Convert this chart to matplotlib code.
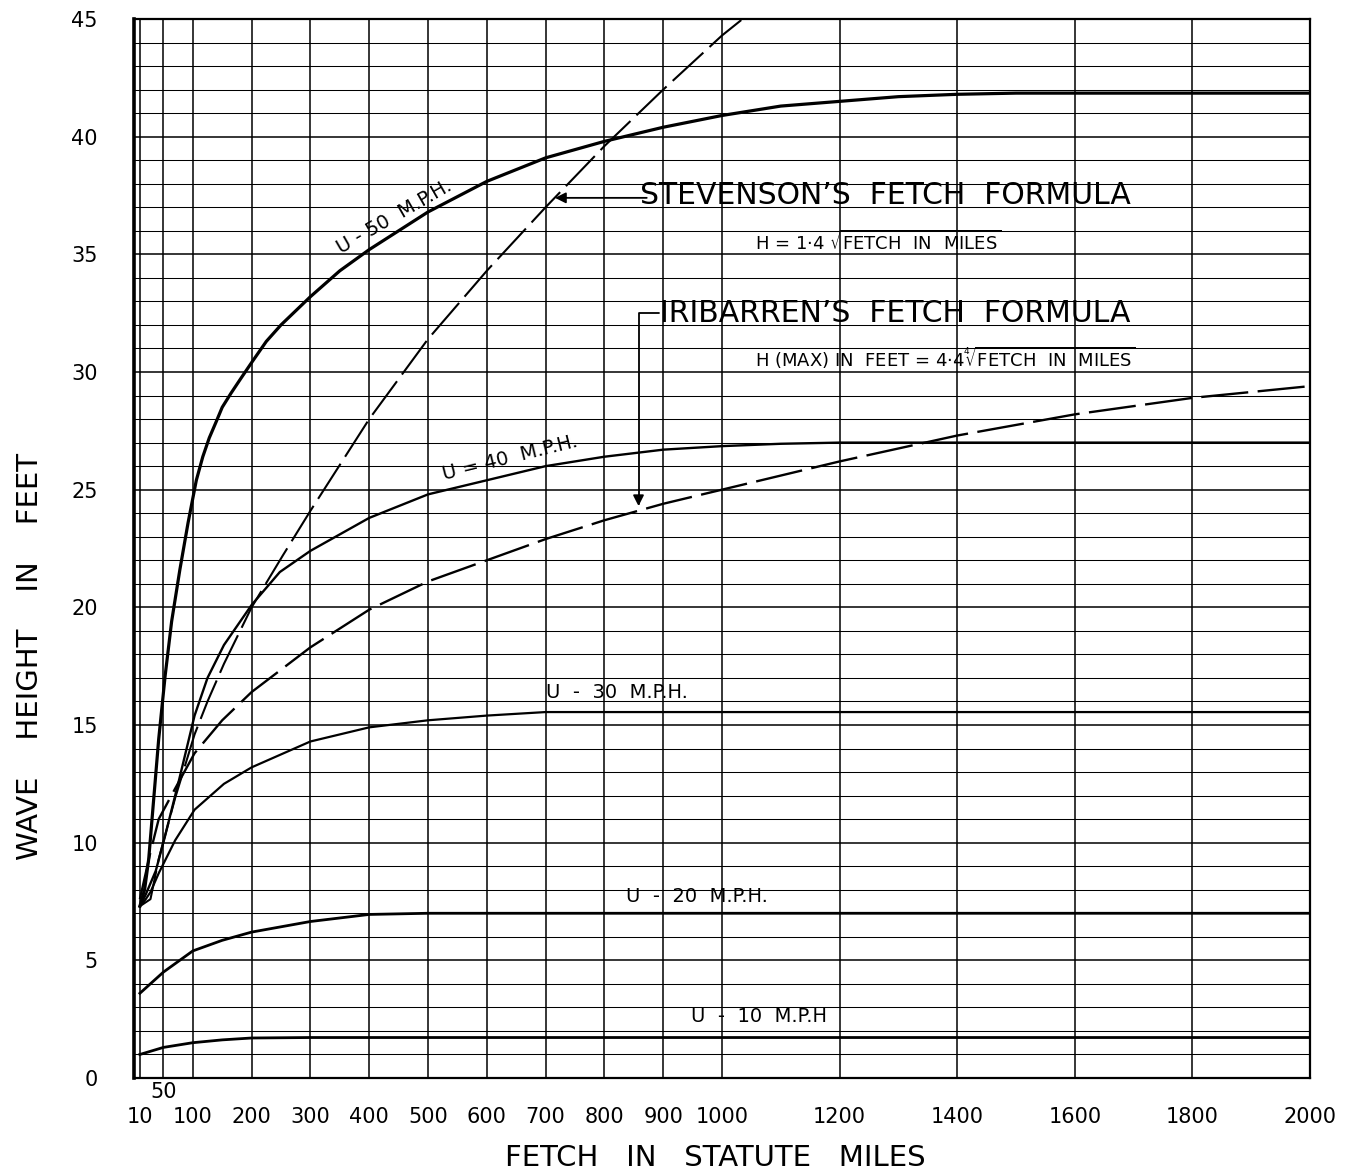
import matplotlib
matplotlib.use("Agg")
import matplotlib.pyplot as plt

# ---------------- data ----------------
x_major = [10, 100, 200, 300, 400, 500, 600, 700, 800, 900, 1000,
           1200, 1400, 1600, 1800, 2000]
x_major_labels = ["10", "100", "200", "300", "400", "500", "600", "700", "800",
                  "900", "1000", "1200", "1400", "1600", "1800", "2000"]
x_minor = [50]
x_minor_labels = ["50"]
y_major = [0, 5, 10, 15, 20, 25, 30, 35, 40, 45]
y_minor = list(range(0, 46))

u50_x = [10, 18, 25, 30, 36, 42, 53, 64, 78, 92, 106, 117, 128, 140, 150, 165,
         181, 200, 225, 250, 275, 300, 350, 400, 500, 600, 700, 800, 900, 1000,
         1100, 1200, 1300, 1400, 1500, 2000]
u50_y = [7.3, 8.0, 9.3, 10.8, 12.6, 14.4, 17.1, 19.4, 21.6, 23.6, 25.4, 26.4,
         27.2, 27.9, 28.5, 29.1, 29.7, 30.4, 31.3, 32.0, 32.6, 33.2, 34.3, 35.2,
         36.8, 38.1, 39.1, 39.8, 40.4, 40.9, 41.3, 41.5, 41.7, 41.8, 41.85, 41.85]

u40_x = [10, 20, 37, 53, 76, 103, 125, 153, 200, 248, 300, 400, 500, 600, 700,
         800, 900, 1000, 1100, 1200, 2000]
u40_y = [7.3, 7.8, 8.8, 10.3, 12.6, 15.4, 17.0, 18.4, 20.1, 21.5, 22.4, 23.8,
         24.8, 25.4, 26.0, 26.4, 26.7, 26.85, 26.95, 27.0, 27.0]

u30_x = [10, 20, 28, 42, 70, 103, 153, 200, 300, 400, 500, 600, 700, 800, 2000]
u30_y = [7.3, 7.6, 7.9, 8.7, 10.1, 11.4, 12.5, 13.2, 14.3, 14.9, 15.2, 15.4,
         15.55, 15.55, 15.55]

u20_x = [10, 50, 100, 150, 200, 300, 400, 500, 2000]
u20_y = [3.6, 4.5, 5.4, 5.85, 6.2, 6.65, 6.95, 7.0, 7.0]

u10_x = [10, 50, 100, 150, 200, 300, 2000]
u10_y = [1.0, 1.3, 1.5, 1.62, 1.7, 1.72, 1.72]

stev_x = [10, 28, 42, 70, 103, 125, 153, 200, 253, 300, 400, 500, 600, 700,
          800, 900, 1000, 1035]
stev_y = [7.3, 7.6, 9.3, 11.9, 14.6, 16.0, 17.6, 20.0, 22.2, 24.1, 28.0, 31.4,
          34.3, 37.0, 39.6, 42.0, 44.3, 45.0]

irib_x = [10, 28, 42, 70, 103, 150, 200, 300, 400, 500, 600, 700, 800, 900,
          1000, 1200, 1400, 1600, 1800, 2000]
irib_y = [7.6, 9.6, 11.0, 12.3, 13.8, 15.2, 16.4, 18.3, 19.9, 21.1, 22.0, 22.9,
          23.7, 24.4, 25.0, 26.2, 27.3, 28.2, 28.9, 29.4]

# ---------------- style ----------------
plt.rcParams["font.family"] = ["DejaVu Sans"]
plt.rcParams["mathtext.fontset"] = "dejavusans"

W, H = 1352, 1171
fig = plt.figure(figsize=(W / 100, H / 100), dpi=100)
ax = fig.add_axes([134 / W, 93 / H, 1176 / W, 1059 / H])
ax.set_xlim(0, 2000)
ax.set_ylim(0, 45)

ax.set_xticks(x_major, labels=x_major_labels)
ax.set_xticks(x_minor, labels=x_minor_labels, minor=True)
ax.set_yticks(y_major, labels=[str(v) for v in y_major])
ax.set_yticks(y_minor, minor=True)

ax.grid(which="major", axis="both", color="black", lw=1.1, zorder=1)
ax.grid(which="minor", axis="y", color="black", lw=0.75, zorder=1)
ax.grid(which="minor", axis="x", color="black", lw=1.1, zorder=1)
ax.set_axisbelow(True)

ax.tick_params(axis="x", which="major", length=0, pad=21, labelsize=15)
ax.tick_params(axis="x", which="minor", length=0, pad=3, labelsize=15)
ax.tick_params(axis="y", which="both", length=0, pad=26, labelsize=15)

for side in ["top", "right", "bottom"]:
    ax.spines[side].set_linewidth(1.6)
ax.spines["left"].set_linewidth(2.6)

# ---------------- curves ----------------
ax.plot(u50_x, u50_y, color="black", lw=2.3, zorder=3)
ax.plot(u40_x, u40_y, color="black", lw=1.7, zorder=3)
ax.plot(u30_x, u30_y, color="black", lw=1.6, zorder=3)
ax.plot(u20_x, u20_y, color="black", lw=2.0, zorder=3)
ax.plot(u10_x, u10_y, color="black", lw=2.0, zorder=3)
ax.plot(stev_x, stev_y, color="black", lw=1.5, ls=(0, (20, 4)), zorder=3)
ax.plot(irib_x, irib_y, color="black", lw=1.7, ls=(0, (20, 4)), zorder=3)

# ---------------- curve labels ----------------
lab = dict(color="black", fontsize=14, ha="center", va="center", zorder=4)
ax.text(443, 36.6, "U - 50  M.P.H.", rotation=30, rotation_mode="anchor", **lab)
ax.text(640, 26.35, "U = 40  M.P.H.", rotation=14, rotation_mode="anchor", **lab)
ax.text(822, 16.36, "U  -  30  M.P.H.", **lab)
ax.text(958, 7.7, "U  -  20  M.P.H.", **lab)
ax.text(1063, 2.6, "U  -  10  M.P.H", **lab)

# ---------------- formula annotations ----------------
ax.text(861, 37.5, "STEVENSON\u2019S  FETCH  FORMULA", fontsize=21.5,
        ha="left", va="center", zorder=4)
ax.text(1056, 35.55, r"H = 1$\cdot$4 $\sqrt{\mathrm{FETCH\ \ IN\ \ MILES}}$",
        fontsize=13, ha="left", va="center", zorder=4)
ax.text(895, 32.5, "IRIBARREN\u2019S  FETCH  FORMULA", fontsize=21.5,
        ha="left", va="center", zorder=4)
ax.text(1056, 30.6,
        r"H (MAX) IN  FEET = 4$\cdot$4$\sqrt[4]{\mathrm{FETCH\ \ IN\ \ MILES}}$",
        fontsize=13, ha="left", va="center", zorder=4)

ax.annotate("", xy=(716, 37.4), xytext=(872, 37.4),
            arrowprops=dict(arrowstyle="-|>", color="black", lw=1.3,
                            mutation_scale=16, shrinkA=0, shrinkB=0), zorder=4)
ax.annotate("", xy=(858, 24.3), xytext=(893, 32.5),
            arrowprops=dict(arrowstyle="-|>", color="black", lw=1.3,
                            mutation_scale=16, shrinkA=0, shrinkB=0,
                            connectionstyle="angle,angleA=0,angleB=90,rad=0"),
            zorder=4)

# ---------------- axis titles ----------------
ax.set_xlabel("FETCH   IN   STATUTE   MILES", fontsize=21, va="center")
ax.xaxis.set_label_coords(0.494, -0.0755)
ax.set_ylabel("WAVE    HEIGHT    IN    FEET", fontsize=21, va="center")
ax.yaxis.set_label_coords(-0.0884, 0.398)

fig.savefig("out.png", dpi=100, facecolor="white")
